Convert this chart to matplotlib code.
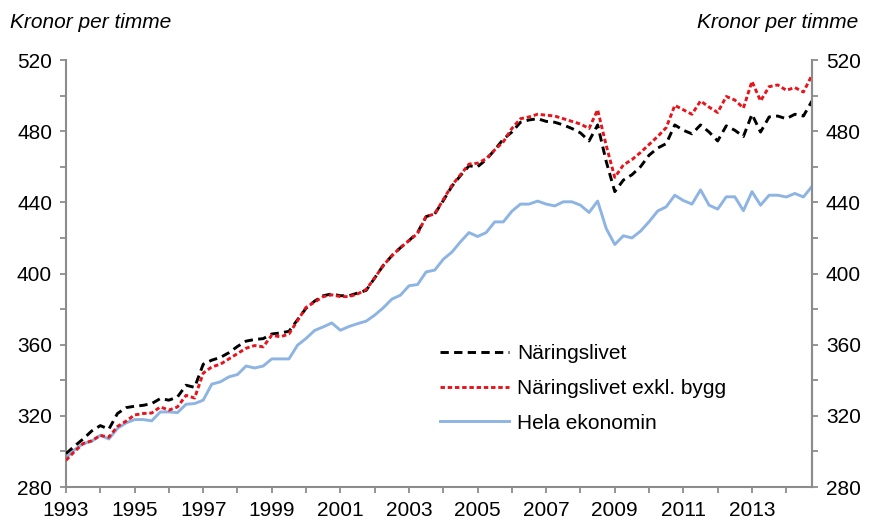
import matplotlib
matplotlib.use('Agg')
import matplotlib.pyplot as plt
from matplotlib.ticker import MultipleLocator, FixedLocator

plt.rcParams['font.family'] = ['Liberation Sans', 'DejaVu Sans']

# Quarterly data, 1993Q1 - 2014Q4 (kronor per timme)
start_year = 1993
naringslivet = [
    298.8, 303.0, 307.0, 311.5, 314.5, 312.5, 321.3, 324.6,
    325.4, 325.9, 326.9, 329.7, 328.8, 330.6, 337.2, 336.0,
    349.0, 351.3, 352.8, 355.5, 359.0, 362.0, 362.9, 363.4,
    366.0, 366.6, 367.5, 374.0, 380.5, 384.5, 387.5, 388.5,
    387.5, 387.5, 389.0, 390.5, 397.5, 404.5, 410.0, 414.5,
    418.5, 423.0, 432.0, 433.5, 441.0, 449.0, 455.0, 460.5,
    460.0, 464.0, 469.5, 475.5, 479.5, 485.0, 486.3, 487.0,
    485.5, 485.0, 483.5, 481.5, 479.0, 474.5, 483.5, 463.0,
    446.0, 452.5, 455.5, 460.0, 466.5, 470.5, 473.0, 483.5,
    480.5, 478.5, 483.5, 479.5, 474.5, 483.0, 480.5, 477.0,
    489.5, 479.5, 488.0, 488.5, 487.0, 489.5, 488.5, 497.0,
]
naringslivet_exkl_bygg = [
    295.0, 300.0, 304.4, 306.0, 309.0, 308.0, 314.0, 317.0,
    320.5, 321.3, 321.6, 325.0, 323.2, 325.0, 331.5, 330.0,
    344.0, 347.5, 349.0, 352.0, 355.0, 358.0, 359.5, 358.8,
    365.3, 364.4, 366.0, 373.5, 381.0, 384.0, 387.0, 388.0,
    387.0, 387.0, 388.5, 391.0, 397.5, 404.5, 410.0, 414.5,
    418.5, 422.5, 432.0, 433.5, 441.5, 449.5, 455.5, 461.5,
    462.0, 464.5, 469.5, 474.0, 481.5, 487.0, 488.0, 489.5,
    489.0, 488.5, 487.0, 485.5, 484.0, 481.5, 492.0, 472.0,
    454.0, 461.0, 464.0, 468.0, 472.5, 477.0, 482.0, 494.5,
    492.0, 489.5, 497.0, 493.5, 490.5, 499.5, 497.5, 493.0,
    508.0, 497.0, 505.0, 506.0, 503.0, 504.5, 502.0, 511.5,
]
hela_ekonomin = [
    296.3, 301.0, 304.4, 305.7, 309.1, 307.0, 312.9, 316.0,
    317.9, 317.9, 317.2, 322.2, 322.2, 321.8, 326.5, 326.9,
    328.8, 337.8, 339.1, 341.9, 343.2, 348.0, 346.9, 348.0,
    352.0, 352.0, 352.0, 359.7, 363.5, 368.0, 370.0, 372.2,
    368.1, 370.2, 371.8, 373.2, 376.6, 380.7, 385.6, 387.8,
    393.1, 393.8, 400.9, 401.9, 408.0, 412.0, 417.8, 423.0,
    420.8, 423.0, 429.0, 429.0, 435.0, 439.0, 439.0, 440.7,
    439.0, 438.0, 440.3, 440.3, 438.4, 434.3, 440.7, 425.3,
    416.3, 421.2, 420.0, 423.8, 429.1, 435.1, 437.5, 444.0,
    441.0, 439.0, 447.0, 438.4, 436.2, 443.1, 443.1, 435.3,
    446.0, 438.4, 444.0, 444.0, 443.0, 445.0, 443.0, 449.0,
]
series_labels = ['Näringslivet', 'Näringslivet exkl. bygg', 'Hela ekonomin']
unit_label = 'Kronor per timme'
year_ticks = list(range(1993, 2015))
year_labels = [str(y) if y % 2 == 1 else '' for y in year_ticks]

x = [start_year + i / 4 for i in range(len(naringslivet))]

plt.rcParams['lines.scale_dashes'] = False
FS = 15
spine_col = '#8c8c8c'

fig = plt.figure(figsize=(8.7, 5.22), dpi=100)
ax = fig.add_axes([66 / 870, 35 / 522, (812 - 66) / 870, 427 / 522])

l1, = ax.plot(x, naringslivet, color='black', lw=2.1, dashes=[6.0, 3.8],
              label=series_labels[0], zorder=3)
l2, = ax.plot(x, naringslivet_exkl_bygg, color='#e8141c', lw=2.1, dashes=[3.2, 2.0],
              label=series_labels[1], zorder=4)
l3, = ax.plot(x, hela_ekonomin, color='#8db4e2', lw=2.1,
              label=series_labels[2], zorder=2)

ax.set_xlim(start_year, x[-1])
ax.set_ylim(280, 520)
ax.xaxis.set_major_locator(FixedLocator(year_ticks))
ax.set_xticklabels(year_labels)
ax.yaxis.set_major_locator(MultipleLocator(40))
ax.yaxis.set_minor_locator(MultipleLocator(20))

ax.spines['top'].set_visible(False)
for s in ['left', 'right', 'bottom']:
    ax.spines[s].set_color(spine_col)
    ax.spines[s].set_linewidth(1.5)

ax.tick_params(axis='x', which='major', direction='out', length=4, width=1.3,
               color=spine_col, labelsize=FS, pad=6)
ax.tick_params(axis='y', which='both', direction='out', length=4, width=1.3,
               color=spine_col, labelsize=FS, pad=6, left=True, right=True,
               labelleft=True, labelright=False)

ax2 = ax.twinx()
ax2.set_ylim(280, 520)
ax2.yaxis.set_major_locator(MultipleLocator(40))
ax2.yaxis.set_minor_locator(MultipleLocator(20))
for s in ['top', 'left', 'bottom']:
    ax2.spines[s].set_visible(False)
ax2.spines['right'].set_color(spine_col)
ax2.spines['right'].set_linewidth(1.5)
ax2.tick_params(axis='y', which='both', direction='out', length=4, width=1.3,
                color=spine_col, labelsize=FS, pad=6)

fig.text(10 / 870, 1 - 23 / 522, unit_label, fontsize=FS, style='italic',
         ha='left', va='center')
fig.text(858 / 870, 1 - 23 / 522, unit_label, fontsize=FS, style='italic',
         ha='right', va='center')

leg = fig.legend(handles=[l1, l2, l3], loc='upper left',
                 bbox_to_anchor=(440 / 870, 1 - 344 / 522), frameon=False,
                 fontsize=FS, handlelength=3.3, handletextpad=0.4,
                 labelspacing=0.76, borderpad=0, borderaxespad=0)

fig.savefig('out.png', dpi=100)
